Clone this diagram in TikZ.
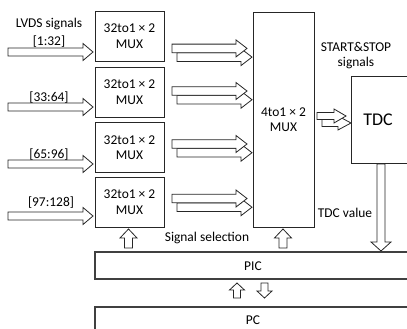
\documentclass[tikz,border=0pt]{standalone}
\usepackage{fontspec}
\setmainfont{Carlito}
\newcommand\harr[6]{\draw[barrow] (#1,#4-#5) -- (#2,#4-#5) -- (#2,#4-#6) -- (#3,#4) -- (#2,#4+#6) -- (#2,#4+#5) -- (#1,#4+#5) -- cycle;}
\newcommand\varr[6]{\draw[barrow] (#1-#5,#2) -- (#1-#5,#3) -- (#1-#6,#3) -- (#1,#4) -- (#1+#6,#3) -- (#1+#5,#3) -- (#1+#5,#2) -- cycle;}
\begin{document}
\begin{tikzpicture}[x=1bp,y=-1bp,
  box/.style={draw=black!85, line width=0.8bp, fill=white, inner sep=0pt, align=center,
    font=\fontsize{13.5}{15.5}\selectfont},
  muxbox/.style={box, minimum width=69bp, minimum height=50bp},
  bar/.style={draw=black!75, line width=1.2bp},
  barrow/.style={draw=black!85, line width=0.8bp, fill=white, line join=miter},
  lbl/.style={inner sep=0pt, font=\fontsize{13.5}{15.5}\selectfont}]
\useasboundingbox (0,0) rectangle (407,329);
\clip (0,0) rectangle (407,329);

% input labels
\node[lbl] (lvds) at (49,24) {LVDS signals};
\node[lbl] (l1) at (49,42) {[1:32]};
\node[lbl] (l2) at (49,98) {[33:64]};
\node[lbl] (l3) at (49,155) {[65:96]};
\node[lbl] (l4) at (51,203) {[97:128]};

% first stage muxes
\node[muxbox] (m1) at (129.5,36) {32to1 × 2\\MUX};
\node[muxbox] (m2) at (129.5,92) {32to1 × 2\\MUX};
\node[muxbox] (m3) at (129.5,147.5) {32to1 × 2\\MUX};
\node[muxbox] (m4) at (129.5,202) {32to1 × 2\\MUX};

% big mux
\node[box, minimum width=61bp, minimum height=215bp] (bm) at (283.5,119.5) {4to1 × 2\\MUX};

% TDC
\draw[draw=black!85, line width=0.8bp] (420,76) -- (351,76) -- (351,163) -- (420,163);
\node[lbl, font=\fontsize{18}{20}\selectfont] (tdc) at (378,120) {TDC};

% PIC / PC
\draw[bar] (420,252) -- (95,252) -- (95,279) -- (420,279);
\node[lbl] (pic) at (253,266) {PIC};
\draw[bar] (420,307) -- (95,307) -- (95,340);
\node[lbl] (pc) at (253,320) {PC};

% input arrows
\harr{8}{83}{93}{52}{4}{8.5}
\harr{8}{83}{93}{107}{4}{8.5}
\harr{8}{83}{93}{164}{4}{8.5}
\harr{8}{83}{93}{216}{4}{8.5}

% double arrows mux -> big mux
\foreach \c in {48.4,91,144,198.5}{
  \harr{177}{241}{252}{\c+8.7}{4.3}{8.5}
  \harr{172}{236}{247}{\c}{4.3}{8.5}
}

% big mux -> TDC
\harr{322}{338}{351}{123}{3.5}{7}
\harr{317}{334}{346}{116}{3.5}{7}

% TDC value
\varr{381}{164}{242}{251}{4}{10}

% signal selection arrows
\varr{128.5}{248}{238}{229}{4}{8.5}
\varr{283}{248}{238}{229}{4}{8.5}

% PIC <-> PC
\varr{237}{298}{290}{283}{3.5}{7.5}
\varr{264.5}{283}{291}{298}{3.5}{7.5}

% labels
\node[lbl] (ss1) at (356,47) {START\&STOP};
\node[lbl] (ss2) at (356,63) {signals};
\node[lbl] (tv) at (345,213) {TDC value};
\node[lbl] (sel) at (207,238) {Signal selection};
\end{tikzpicture}
\end{document}
